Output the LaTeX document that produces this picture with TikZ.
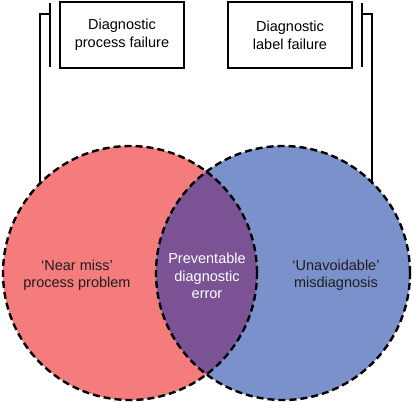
\documentclass[tikz,border=0pt]{standalone}
\usepackage{fontspec}
\setmainfont{Liberation Sans}
\definecolor{redfill}{HTML}{F47C7C}
\definecolor{bluefill}{HTML}{7B91CB}
\definecolor{purplefill}{HTML}{7B5394}
\definecolor{txtdark}{HTML}{1E1E1E}
\begin{document}
\begin{tikzpicture}[x=1pt,y=-1pt,
  labelbox/.style={draw=black,line width=2pt,minimum width=124pt,minimum height=66pt,inner sep=0pt,align=center,font=\fontsize{14.5}{18}\selectfont},
  vtext/.style={align=center,font=\fontsize{14.5}{17.5}\selectfont},
  bracket/.style={draw=black,line width=1.5pt},
  dashring/.style={draw=black,line width=2.4pt,dash pattern=on 7pt off 4pt}]
\useasboundingbox (0,0) rectangle (413,402);
% circle centres
\coordinate (cl) at (130,273);
\coordinate (cr) at (283,273);
\fill[redfill] (cl) circle (127pt);
\fill[bluefill] (cr) circle (127pt);
\begin{scope}
  \clip (cl) circle (127pt);
  \fill[purplefill] (cr) circle (127pt);
\end{scope}
\draw[dashring] (cl) circle (127pt);
\draw[dashring] (cr) circle (127pt);
% boxes
\node[labelbox] (bp) at (122,35) {Diagnostic\\process failure};
\node[labelbox] (bl) at (290,35) {Diagnostic\\label failure};
% brackets
\coordinate (lt) at (50,3);
\coordinate (lb) at (50,67);
\coordinate (lm) at (50,14);
\coordinate (lo) at (40,14);
\coordinate (lc) at (40,184);
\draw[bracket] (lt) -- (lb);
\draw[bracket] (lm) -- (lo) -- (lc);
\coordinate (rt) at (362,3);
\coordinate (rb) at (362,67);
\coordinate (rm) at (362,14);
\coordinate (ro) at (372,14);
\coordinate (rc) at (372,184);
\draw[bracket] (rt) -- (rb);
\draw[bracket] (rm) -- (ro) -- (rc);
% texts
\node[vtext,text=txtdark] (tl) at (77,275) {‘Near miss’\\process problem};
\node[vtext,text=txtdark] (tr) at (336,275) {‘Unavoidable’\\misdiagnosis};
\node[vtext,text=white] (tc) at (207,276) {Preventable\\diagnostic\\error};
\end{tikzpicture}
\end{document}
